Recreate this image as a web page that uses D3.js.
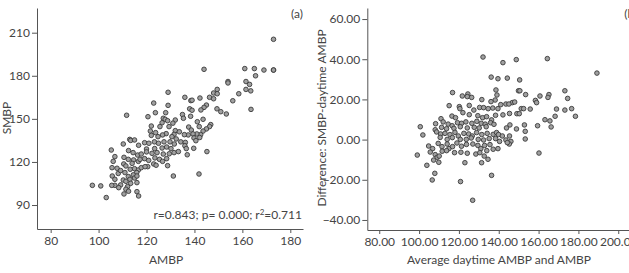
<!DOCTYPE html>
<html>
<head>
<meta charset="utf-8">
<script src="https://cdn.jsdelivr.net/npm/d3@7"></script>
<style>
  body { margin: 0; background: #fff; }
  svg { display: block; font-family: Lato, "Open Sans", sans-serif; }
  .axis path, .axis line { stroke: #555; }
  .axis text { fill: #444; font-size: 12px; font-family: Lato, "Open Sans", sans-serif; }
  .lbl { fill: #444; font-size: 12px; }
  .dot { fill: #a0a0a0; stroke: #3a3a3a; stroke-width: 0.9px; }
</style>
</head>
<body>
<div class="chart"></div>
<script>
// panel (a): AMBP vs SMBP
var ambp = [173,173,144,161,165,169,173,165.5,154,154,161.5,163,161.5,163.5,149.5,148,149.5,158.5,129,
  146.3,148,156,136,138.5,139,142.3,123,129,145,144,149.4,151,153.3,163.6,142.7,138,139,135,128,123.7,
  111.7,120.6,135.4,138.4,143.6,127,127.8,128.8,132,141.2,146.8,146.3,145,142,137.6,131,126.5,125.6,129.4,122,
  143.6,138.7,142.6,141,139.4,139.8,142.2,140.6,137.4,135.8,132,131.5,130.6,132.4,133.7,128.2,126.7,123.8,121.6,122,124.8,
  113,113.4,115,110.3,116.7,119.2,121,123.3,125,127.3,129.8,131.6,134.3,136.2,136,139.7,136.6,128.4,130.2,126.5,123.4,120,
  105.3,106.8,112.5,114.4,116.3,117.8,120,122.3,124.4,127,129.5,131.5,133.3,145.2,137,
  110.6,112.4,114.6,116.6,117.3,119.2,120.9,123.5,125.4,126.7,128.4,123,124,128.8,120.5,110.5,111.4,106.1,105.6,107.7,114,
  108.2,109.2,111,113.2,115,116.6,117.8,115.9,114.5,112.4,105.7,131.2,141.9,119.4,
  106.8,110.3,111.4,113.1,115,116,113.4,112.1,109.2,106.8,105.5,97.4,100.9,116,108.4,
  111.4,110.6,116,116.7,103.2,112.5];
var smbp = [205.4,184,184.5,185,185,184,184,180,176,175,176,174,170.5,169.5,170.5,168,167.5,167.5,168.5,
  165,164,162.6,165,162.7,163,164.5,161,159.4,159.6,158,157,155,153.4,156.6,156.2,157,156,153,154.3,154.3,
  152.5,151.5,150.4,151.8,149.7,150.4,149.7,148.7,149.2,148,146,144.6,143,144.6,144.3,147,147.3,144.6,144.6,145,
  141.5,142.2,139,139.5,139.5,136.7,137,134.8,138.8,139,141.8,139.2,137.6,136,141,139.7,138.8,140.4,141.5,138.5,137.6,
  135.7,135,135.3,132.5,131.6,133.4,133,134,133,134,134,132.5,134,133.6,131.3,129.5,129.3,130.4,129.3,129.7,129.3,129,
  128.3,123.7,127.9,126.5,124.8,125.5,127,126,126.5,125.5,125.7,126.5,127.2,127.2,125,
  123.2,121.8,121.4,120.4,121.8,122.3,121.1,122.8,121.8,120.4,122.3,118.6,117.7,117.4,116.7,118.6,117.2,120.4,116,115.6,119,
  112,114,112.6,114.9,115.3,114.4,116,112.6,111,109.8,110.2,110.2,111.6,116.7,
  107.9,107.4,106.5,107.9,108.8,110.2,105.1,102.8,104,103.7,103.7,103.7,103.3,105.6,102.1,
  101,97.7,99.3,96.3,95.2,99.6];

// panel (b): mean of the two readings vs their difference
var avgBP = [132.1,164.4,142.1,148.8,189.3,136.2,139.6,144.3,150.5,
  173.2,138.6,149.9,150.6,153.5,139.1,174.6,160.7,165.2,164.7,158.4,159,138.2,136.1,124.5,116.8,124.2,121.7,126.4,
  146.8,148,143.6,145.1,141,131.5,130.4,132.4,125.2,120.2,120.5,115.1,134.7,137,139.6,151.3,152.5,155.8,173.2,169,176.6,178.5,
  127.5,122,116.5,118.3,111,129.5,131.9,133.9,125.2,136.4,138.4,142.1,145.4,149.1,150.3,168.3,163.2,165.7,
  100.6,108.3,112.1,114.6,116.6,119.3,121.3,123.5,126.5,129,131.2,133.2,135.9,137.6,145.6,152.9,159.5,166.3,143.9,
  108.1,111.3,113.8,117.5,120.7,124.2,127.7,130.2,133.7,148.9,153.3,
  101.9,108.8,110.8,113,115.5,118,119.7,122.5,124.9,126.7,128.9,131.5,134.2,137.2,138.9,139.9,141.8,145.4,
  110.6,114.1,116.7,120.7,123.7,126.2,129.7,132.4,135.2,138.4,140.4,143.6,146.1,153.3,
  104.8,106.8,109.6,111.5,114.1,115,116.8,119,121.3,123.8,127,129.5,132.9,135.6,139.6,137.2,145.3,144.3,131,
  105.6,108.1,111.6,113.8,117.8,121,124.2,128.5,130.5,134,99.1,160.2,109.1,110.1,107.3,109.9,123,131.4,134.6,132.7,103.9,
  107.9,106.6,120.8,136.4,126.9];
var diffBP = [41.1,40.3,38.3,39.8,33.1,31.1,30.3,30.6,29.7,
  24.3,24.7,24.3,24.3,22.4,22.2,20.5,21.7,22.4,21,19.5,18.4,19.7,18.9,22.7,23.4,21.4,21.7,21,
  18.4,18.7,17.7,17.7,17.4,19.9,16,15.9,17,16.4,15.4,16.9,15.4,15.7,15.4,15.4,15.4,15.2,14.7,15.2,15.4,11.6,
  14.7,13.4,11.7,10.9,10.4,11.9,10.9,11.4,12.4,9.8,12.1,12.3,13,12.9,12.9,11.6,9.9,9.3,
  6.4,7.9,8.8,7.7,6.9,8.4,8.1,8.8,8.1,9.1,8.1,7.7,8.4,7.6,7.3,7.3,6.9,6.3,5.8,
  4.9,6.1,5.4,5.6,6.4,5.8,6.1,5.8,6.4,5.3,4.1,
  2.3,3.8,2.8,3.1,2.5,3.6,1.8,3.1,2.8,1.8,3.5,2.5,3.1,2.6,3.5,2.5,1.8,1.8,
  1.1,0.1,1,0.1,0.1,0.8,0.1,-0.2,0.5,0.5,-0.9,-0.2,-0.9,0.3,
  -3.2,-4.5,-1.9,-3.5,-2.2,-4.5,-3.5,-1.7,-3.3,-2.4,-2.2,-2.9,-2.9,-2.5,-4.5,-4.8,-2.2,-1.5,-4.5,
  -6.2,-7.5,-5.8,-5.5,-6.5,-6.3,-6.8,-7.2,-6.5,-5.5,-7.7,-6.7,-8.8,-8.2,-10.2,-11.3,-11.5,-11.5,-9.8,-8.2,-12.8,
  -16.8,-20.1,-20.9,-17.8,-30.2];

var ticksA_x = [80, 100, 120, 140, 160, 180];
var ticksA_y = [90, 120, 150, 180, 210];
var ticksB_x = [80, 100, 120, 140, 160, 180, 200];
var ticksB_y = [-40, -20, 0, 20, 40, 60];

var width = 629, height = 273;

var svg = d3.select(".chart").append("svg")
    .attr("width", width)
    .attr("height", height);

function drawPanel(opts) {
    var x = d3.scaleLinear().domain(opts.xDomain).range(opts.xRange);
    var y = d3.scaleLinear().domain(opts.yDomain).range(opts.yRange);

    var xAxis = d3.axisBottom(x).tickValues(opts.xTicks).tickSize(4).tickSizeOuter(0)
        .tickPadding(3).tickFormat(d3.format(opts.fmt));
    var yAxis = d3.axisLeft(y).tickValues(opts.yTicks).tickSize(5).tickSizeOuter(0)
        .tickPadding(2).tickFormat(d3.format(opts.fmt));

    svg.append("g")
        .attr("class", "x axis")
        .attr("transform", "translate(0," + opts.yRange[0] + ")")
        .call(xAxis);

    svg.append("g")
        .attr("class", "y axis")
        .attr("transform", "translate(" + opts.xRange[0] + ",0)")
        .call(yAxis);

    svg.append("g").selectAll("circle")
        .data(opts.xs.map(function (d, i) { return [d, opts.ys[i]]; }))
        .enter().append("circle")
        .attr("class", "dot")
        .attr("cx", function (d) { return x(d[0]); })
        .attr("cy", function (d) { return y(d[1]); })
        .attr("r", 2.3);

    // x axis title
    svg.append("text")
        .attr("class", "lbl")
        .attr("x", opts.xLabelPos[0])
        .attr("y", opts.xLabelPos[1])
        .attr("text-anchor", "middle")
        .text(opts.xLabel);

    // y axis title
    svg.append("text")
        .attr("class", "lbl")
        .attr("transform", "translate(" + opts.yLabelPos[0] + "," + opts.yLabelPos[1] + ") rotate(-90)")
        .attr("text-anchor", "middle")
        .text(opts.yLabel);

    // panel letter
    svg.append("text")
        .attr("class", "lbl")
        .attr("x", opts.tagPos[0])
        .attr("y", opts.tagPos[1])
        .attr("text-anchor", "end")
        .text(opts.tag);

    return { x: x, y: y };
}

drawPanel({
    xs: ambp, ys: smbp,
    xDomain: [74.3, 185.3], xRange: [37, 303],
    yDomain: [73.3, 227.2], yRange: [229, 8],
    xTicks: ticksA_x, yTicks: ticksA_y, fmt: "d",
    xLabel: "AMBP", xLabelPos: [166, 264],
    yLabel: "SMBP", yLabelPos: [11, 118],
    tag: "(a)", tagPos: [303, 18]
});

// stats note in panel (a)
var note = svg.append("text")
    .attr("class", "lbl")
    .attr("x", 302)
    .attr("y", 219)
    .attr("text-anchor", "end");
note.append("tspan").text("r=0.843; p= 0.000; r");
note.append("tspan").attr("dy", -4).style("font-size", "8px").text("2");
note.append("tspan").attr("dy", 4).text("=0.711");

drawPanel({
    xs: avgBP, ys: diffBP,
    xDomain: [74, 205.4], xRange: [367.3, 629],
    yDomain: [-45, 65.5], yRange: [230, 8],
    xTicks: ticksB_x, yTicks: ticksB_y, fmt: ".2f",
    xLabel: "Average daytime AMBP and AMBP", xLabelPos: [499, 264],
    yLabel: "Difference: SMBP-daytime AMBP", yLabelPos: [326, 118],
    tag: "(b)", tagPos: [637, 18]
});
</script>
</body>
</html>
